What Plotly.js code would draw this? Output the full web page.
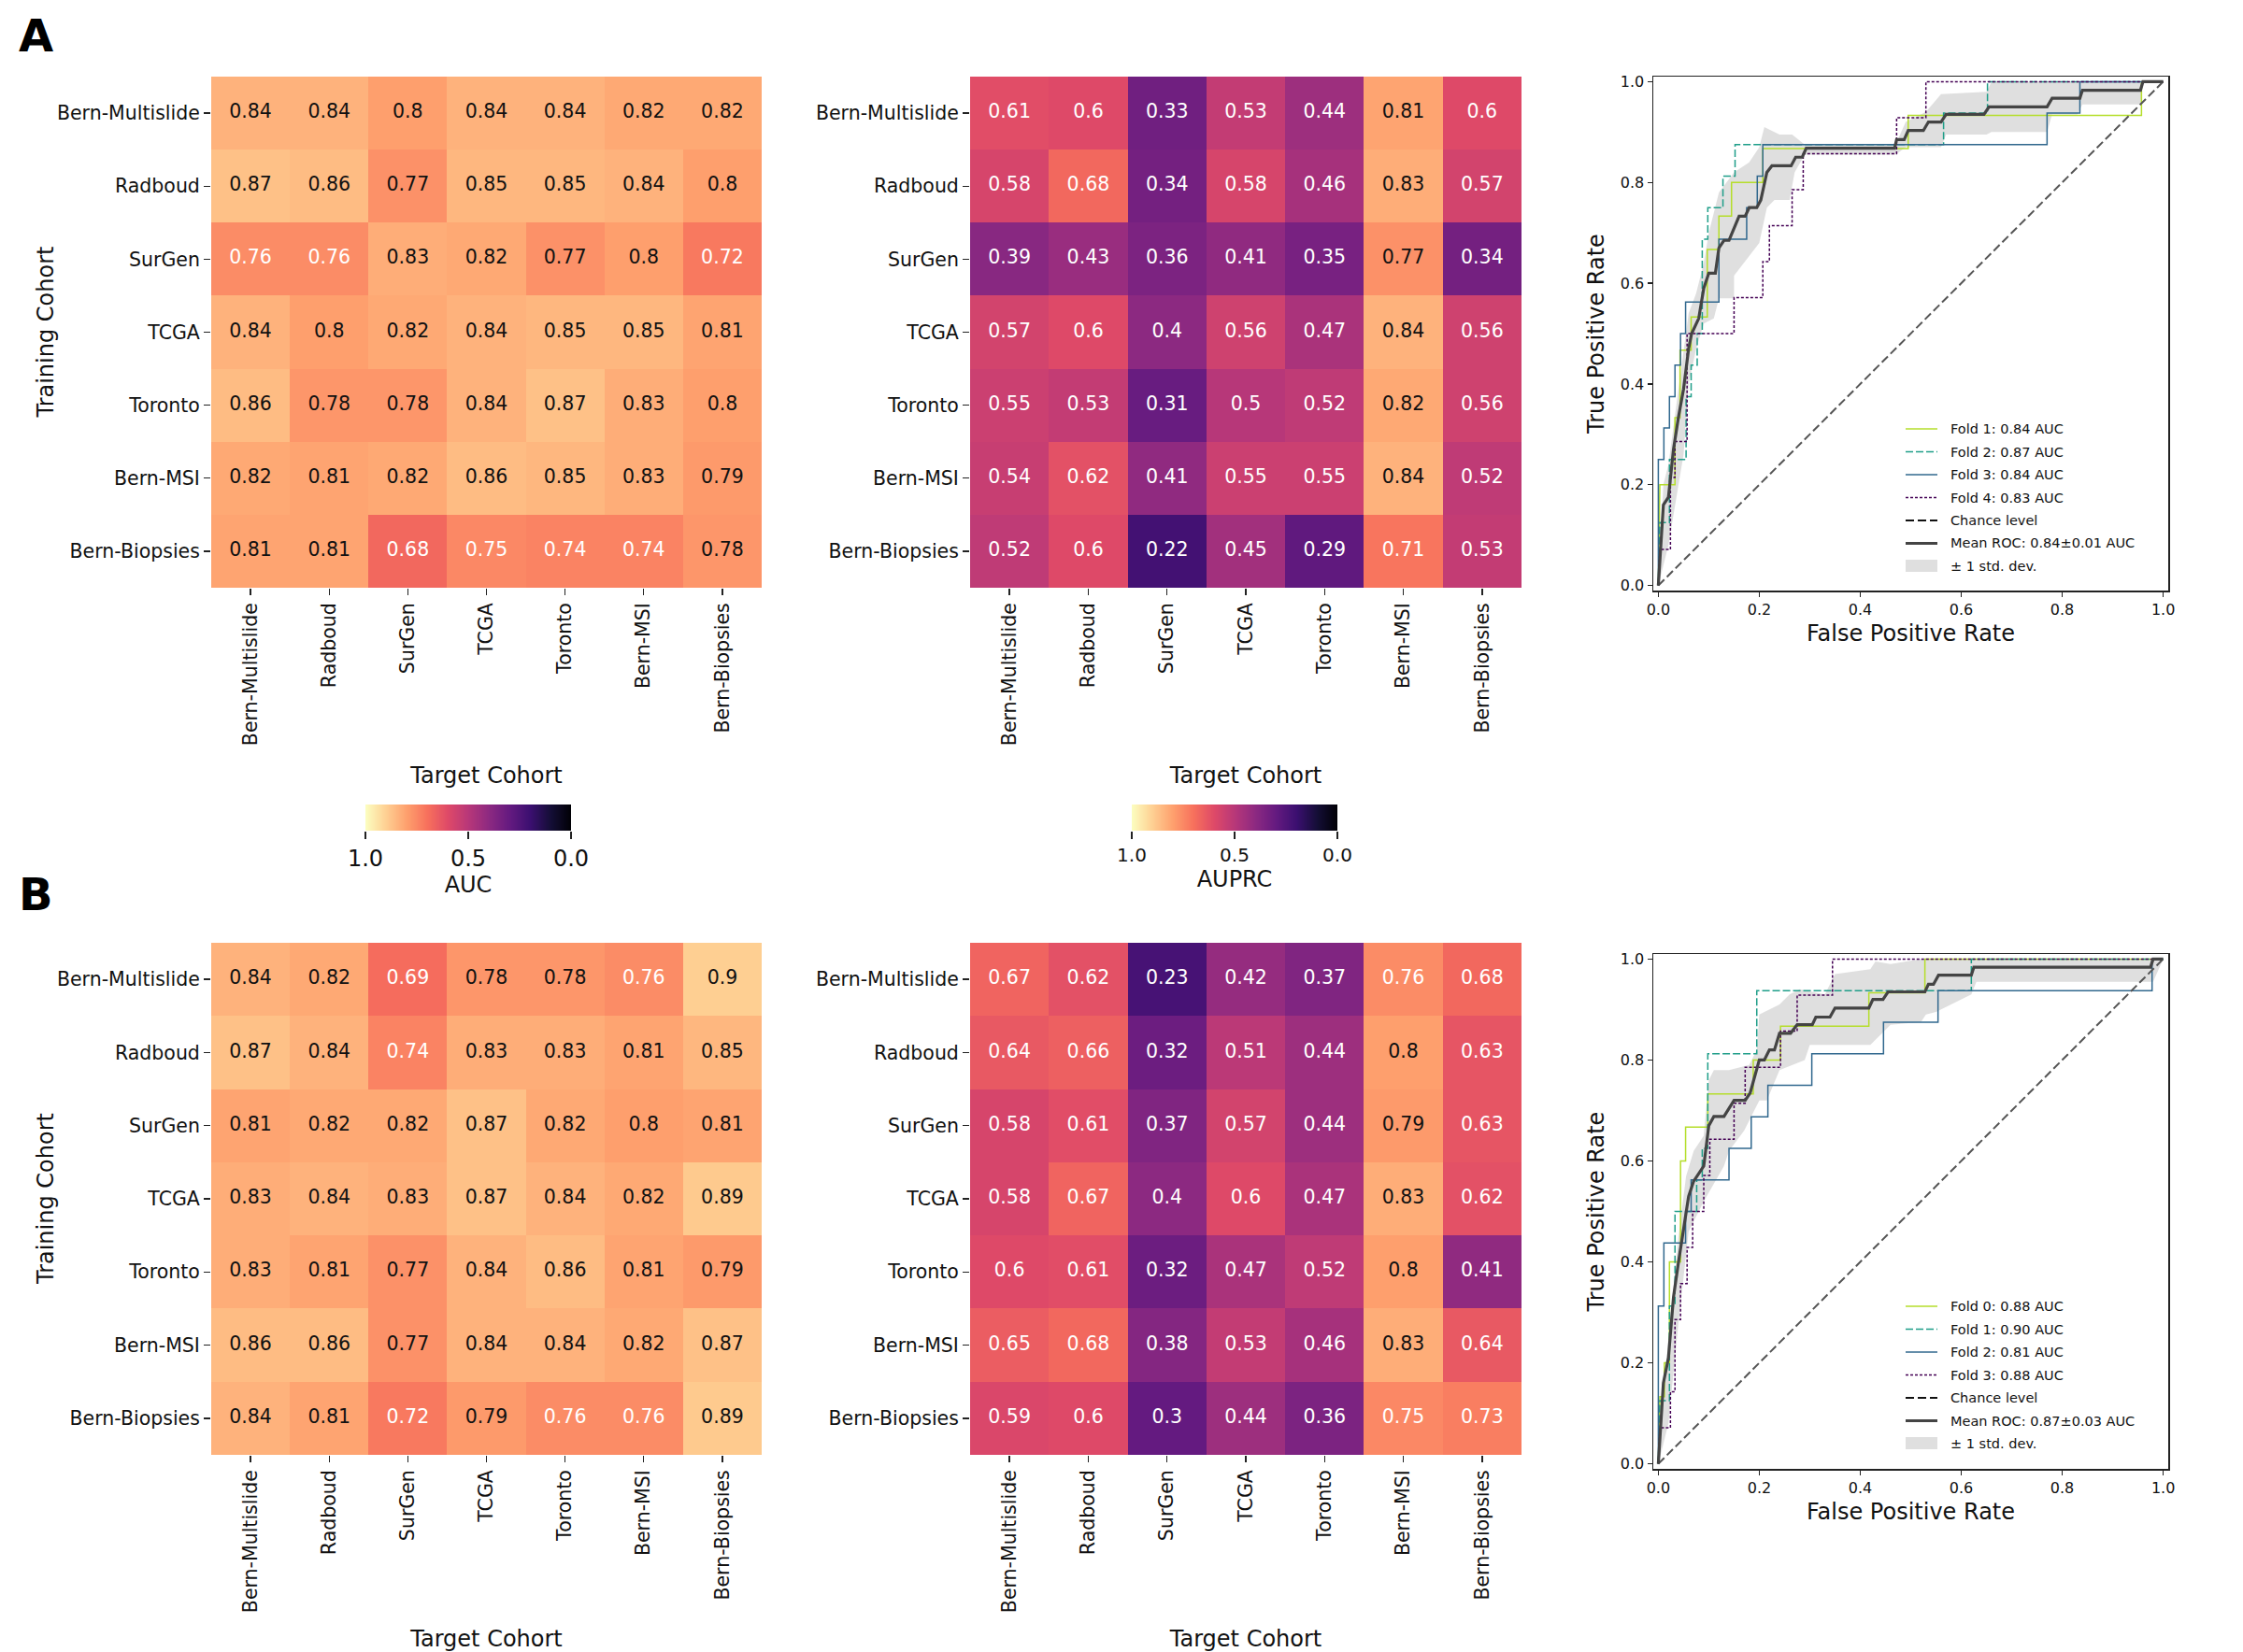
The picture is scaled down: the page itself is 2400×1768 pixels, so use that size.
<!DOCTYPE html>
<html><head><meta charset="utf-8">
<script src="https://cdn.plot.ly/plotly-3.0.0.min.js"></script>
<style>html,body{margin:0;padding:0;background:#fff}</style></head>
<body><div id="chart" style="width:2400px;height:1768px"></div>
<script>
const cohorts = ["Bern-Multislide","Radboud","SurGen","TCGA","Toronto","Bern-MSI","Bern-Biopsies"];

const aucA = [
 [0.84,0.84,0.80,0.84,0.84,0.82,0.82],
 [0.87,0.86,0.77,0.85,0.85,0.84,0.80],
 [0.76,0.76,0.83,0.82,0.77,0.80,0.72],
 [0.84,0.80,0.82,0.84,0.85,0.85,0.81],
 [0.86,0.78,0.78,0.84,0.87,0.83,0.80],
 [0.82,0.81,0.82,0.86,0.85,0.83,0.79],
 [0.81,0.81,0.68,0.75,0.74,0.74,0.78]];
const auprcA = [
 [0.61,0.60,0.33,0.53,0.44,0.81,0.60],
 [0.58,0.68,0.34,0.58,0.46,0.83,0.57],
 [0.39,0.43,0.36,0.41,0.35,0.77,0.34],
 [0.57,0.60,0.40,0.56,0.47,0.84,0.56],
 [0.55,0.53,0.31,0.50,0.52,0.82,0.56],
 [0.54,0.62,0.41,0.55,0.55,0.84,0.52],
 [0.52,0.60,0.22,0.45,0.29,0.71,0.53]];
const aucB = [
 [0.84,0.82,0.69,0.78,0.78,0.76,0.90],
 [0.87,0.84,0.74,0.83,0.83,0.81,0.85],
 [0.81,0.82,0.82,0.87,0.82,0.80,0.81],
 [0.83,0.84,0.83,0.87,0.84,0.82,0.89],
 [0.83,0.81,0.77,0.84,0.86,0.81,0.79],
 [0.86,0.86,0.77,0.84,0.84,0.82,0.87],
 [0.84,0.81,0.72,0.79,0.76,0.76,0.89]];
const auprcB = [
 [0.67,0.62,0.23,0.42,0.37,0.76,0.68],
 [0.64,0.66,0.32,0.51,0.44,0.80,0.63],
 [0.58,0.61,0.37,0.57,0.44,0.79,0.63],
 [0.58,0.67,0.40,0.60,0.47,0.83,0.62],
 [0.60,0.61,0.32,0.47,0.52,0.80,0.41],
 [0.65,0.68,0.38,0.53,0.46,0.83,0.64],
 [0.59,0.60,0.30,0.44,0.36,0.75,0.73]];

// ROC A
const a1x=[0,0.003,0.033,0.033,0.043,0.043,0.065,0.065,0.097,0.097,0.12,0.12,0.145,0.145,0.207,0.207,0.495,0.495,0.957,0.957,1];
const a1y=[0,0.2,0.2,0.333,0.333,0.467,0.467,0.533,0.533,0.667,0.667,0.733,0.733,0.8,0.8,0.867,0.867,0.933,0.933,1,1];
const a2x=[0,0.003,0.022,0.022,0.055,0.055,0.065,0.065,0.077,0.077,0.087,0.087,0.098,0.098,0.128,0.128,0.152,0.152,0.565,0.565,0.652,0.652,1];
const a2y=[0,0.125,0.125,0.25,0.25,0.375,0.375,0.4375,0.4375,0.5,0.5,0.6875,0.6875,0.75,0.75,0.8125,0.8125,0.875,0.875,0.9375,0.9375,1,1];
const a3x=[0,0,0.011,0.011,0.022,0.022,0.033,0.033,0.044,0.044,0.054,0.054,0.12,0.12,0.175,0.175,0.196,0.196,0.207,0.207,0.77,0.77,0.835,0.835,1];
const a3y=[0,0.25,0.25,0.3125,0.3125,0.375,0.375,0.4375,0.4375,0.5,0.5,0.5625,0.5625,0.6875,0.6875,0.75,0.75,0.8125,0.8125,0.875,0.875,0.9375,0.9375,1,1];
const a4x=[0,0.003,0.024,0.024,0.033,0.033,0.057,0.057,0.15,0.15,0.207,0.207,0.22,0.22,0.265,0.265,0.287,0.287,0.472,0.472,0.53,0.53,1];
const a4y=[0,0.0714,0.0714,0.2143,0.2143,0.2857,0.2857,0.5,0.5,0.5714,0.5714,0.6429,0.6429,0.7143,0.7143,0.7857,0.7857,0.857,0.857,0.9286,0.9286,1,1];
const amx=[0,0.01,0.02,0.03,0.04,0.05,0.06,0.066,0.08,0.09,0.1,0.113,0.12,0.13,0.14,0.15,0.16,0.172,0.18,0.195,0.203,0.215,0.225,0.263,0.272,0.285,0.293,0.468,0.472,0.487,0.495,0.525,0.535,0.56,0.57,0.645,0.655,0.77,0.78,0.835,0.84,0.955,0.96,1];
const amy=[0,0.16,0.175,0.27,0.335,0.39,0.47,0.5,0.53,0.59,0.62,0.62,0.67,0.685,0.685,0.71,0.733,0.733,0.75,0.75,0.765,0.82,0.833,0.833,0.85,0.85,0.868,0.868,0.885,0.885,0.903,0.903,0.92,0.92,0.935,0.935,0.95,0.95,0.967,0.967,0.983,0.983,1,1];
const aux=[0,0.01,0.02,0.04,0.06,0.075,0.09,0.1,0.12,0.15,0.18,0.2,0.21,0.24,0.265,0.29,0.47,0.49,0.53,0.56,0.65,0.66,1];
const auy=[0,0.2,0.24,0.39,0.54,0.58,0.64,0.7,0.78,0.82,0.84,0.87,0.91,0.895,0.895,0.875,0.875,0.92,0.94,0.975,0.98,1,1];
const alx=[0,0.02,0.05,0.06,0.075,0.09,0.11,0.12,0.15,0.15,0.17,0.2,0.215,0.23,0.26,0.27,0.29,0.47,0.49,0.56,0.57,0.65,0.66,0.77,0.78,0.83,0.84,0.955,0.96,1];
const aly=[0,0.08,0.26,0.4,0.47,0.52,0.53,0.57,0.57,0.615,0.64,0.68,0.75,0.765,0.765,0.82,0.855,0.855,0.87,0.87,0.895,0.895,0.9,0.9,0.935,0.935,0.955,0.955,1,1];

// ROC B
const b1x=[0,0.003,0.012,0.012,0.022,0.022,0.044,0.044,0.054,0.054,0.098,0.098,0.188,0.188,0.242,0.242,0.417,0.417,0.528,0.528,1];
const b1y=[0,0.133,0.133,0.2,0.2,0.4,0.4,0.6,0.6,0.667,0.667,0.733,0.733,0.8,0.8,0.867,0.867,0.933,0.933,1,1];
const b2x=[0,0.003,0.022,0.022,0.033,0.033,0.076,0.076,0.087,0.087,0.098,0.098,0.195,0.195,0.62,0.62,1];
const b2y=[0,0.125,0.125,0.3125,0.3125,0.5,0.5,0.5625,0.5625,0.625,0.625,0.8125,0.8125,0.9375,0.9375,1,1];
const b3x=[0,0,0.011,0.011,0.054,0.054,0.065,0.065,0.14,0.14,0.184,0.184,0.217,0.217,0.304,0.304,0.446,0.446,0.554,0.554,0.978,0.978,1];
const b3y=[0,0.3125,0.3125,0.4375,0.4375,0.5,0.5,0.5625,0.5625,0.625,0.625,0.6875,0.6875,0.75,0.75,0.8125,0.8125,0.875,0.875,0.9375,0.9375,1,1];
const b4x=[0,0.003,0.024,0.024,0.033,0.033,0.044,0.044,0.057,0.057,0.068,0.068,0.09,0.09,0.102,0.102,0.15,0.15,0.172,0.172,0.242,0.242,0.275,0.275,0.345,0.345,1];
const b4y=[0,0.0714,0.0714,0.1429,0.1429,0.2857,0.2857,0.3571,0.3571,0.4286,0.4286,0.5,0.5,0.5714,0.5714,0.6429,0.6429,0.7143,0.7143,0.7857,0.7857,0.8571,0.8571,0.9286,0.9286,1,1];
const bmx=[0,0.01,0.02,0.03,0.04,0.05,0.06,0.07,0.09,0.1,0.11,0.13,0.15,0.172,0.182,0.2,0.21,0.22,0.23,0.24,0.262,0.275,0.305,0.312,0.34,0.35,0.417,0.425,0.445,0.455,0.528,0.535,0.545,0.555,0.62,0.625,0.975,0.98,1];
const bmy=[0,0.16,0.21,0.33,0.4,0.47,0.53,0.56,0.59,0.67,0.688,0.688,0.72,0.72,0.735,0.8,0.8,0.82,0.82,0.853,0.853,0.87,0.87,0.885,0.885,0.903,0.903,0.92,0.92,0.935,0.935,0.95,0.95,0.968,0.968,0.984,0.984,1,1];
const bux=[0,0.02,0.04,0.055,0.07,0.09,0.1,0.11,0.14,0.18,0.195,0.2,0.24,0.26,0.28,0.33,0.35,0.42,0.43,0.46,0.52,0.535,0.62,1];
const buy=[0,0.25,0.45,0.57,0.62,0.65,0.76,0.78,0.78,0.79,0.82,0.89,0.91,0.93,0.94,0.93,0.97,0.98,0.995,0.99,1,1,1,1];
const blx=[0,0.02,0.04,0.06,0.08,0.09,0.13,0.14,0.17,0.19,0.2,0.215,0.24,0.29,0.3,0.42,0.44,0.46,0.52,0.53,0.55,0.62,0.63,0.98,1];
const bly=[0,0.08,0.28,0.46,0.5,0.52,0.59,0.62,0.66,0.7,0.72,0.72,0.78,0.8,0.83,0.83,0.85,0.87,0.875,0.89,0.895,0.93,0.955,0.955,1];

const magma=[[0,'#000004'],[0.1,'#140e36'],[0.2,'#3b0f70'],[0.3,'#641a80'],[0.4,'#8c2981'],[0.5,'#b73779'],[0.6,'#de4968'],[0.7,'#f7705c'],[0.8,'#fe9f6d'],[0.9,'#fecf92'],[1,'#fcfdbf']];
const scaleValues=[0,0.05,0.1,0.15,0.2,0.25,0.3,0.35,0.4,0.45,0.5,0.55,0.6,0.65,0.7,0.75,0.8,0.85,0.9,0.95,1];

const W=2400,H=1768;
const heatX=[[226,815],[1038,1628]];
const heatY=[[82,629],[1009,1557]];
const rocX=[1769,2320];
const rocY=[[82,632],[1021,1572]];
const barX=[[391,611],[1211,1431]];
const barY=[861,889];
const dx=([a,b])=>[a/W,b/W], dy=([a,b])=>[1-b/H,1-a/H];

const data=[],layout={width:W,height:H,margin:{l:0,r:0,t:0,b:0},paper_bgcolor:'#fff',plot_bgcolor:'#fff',showlegend:false,font:{family:'DejaVu Sans',color:'#111'},annotations:[],shapes:[]};
let n=0;
function addHeat(z,xr,yr,showY){
  n++;const id=n,xa='xaxis'+id,ya='yaxis'+id;
  layout[xa]={domain:dx(xr),anchor:'y'+id,tickmode:'array',tickvals:cohorts.map((_,i)=>i),ticktext:cohorts,tickangle:-90,tickfont:{size:20.5},ticks:'outside',ticklen:7,tickwidth:1.3,tickcolor:'#222',showgrid:false,zeroline:false,showline:false,range:[-0.5,6.5],title:{text:'Target Cohort',font:{size:24},standoff:24},automargin:false};
  layout[ya]={domain:dy(yr),anchor:'x'+id,tickmode:'array',tickvals:cohorts.map((_,i)=>i),ticktext:cohorts,tickfont:{size:20.5},ticks:'outside',ticklen:7,tickwidth:1.3,tickcolor:'#222',showgrid:false,zeroline:false,showline:false,range:[6.5,-0.5],automargin:false};
  data.push({type:'heatmap',z:z,x:cohorts.map((_,i)=>i),y:cohorts.map((_,i)=>i),xaxis:'x'+id,yaxis:'y'+id,zmin:0,zmax:1,colorscale:magma,showscale:false,xgap:0,ygap:0,hoverinfo:'skip'});
  const tx=[],ty=[],tt=[],tc=[];
  z.forEach((r,i)=>r.forEach((v,j)=>{tx.push(j);ty.push(i);tt.push(String(v));tc.push(v<=0.76?'#fff':'#111');}));
  data.push({type:'scatter',mode:'text',x:tx,y:ty,text:tt,textposition:'middle center',textfont:{size:20.5,color:tc},xaxis:'x'+id,yaxis:'y'+id,hoverinfo:'skip'});
  if(showY){
    layout.annotations.push({text:'Training Cohort',xref:'paper',yref:'paper',x:49/W,y:1-(yr[0]+yr[1])/2/H,textangle:-90,showarrow:false,font:{size:24},xanchor:'center',yanchor:'middle'});
  }
}
function addRoc(series,yr,names){
  n++;const id=n,xa='xaxis'+id,ya='yaxis'+id;
  layout[xa]={domain:dx(rocX),anchor:'y'+id,range:[-0.01,1.01],tickvals:[0,0.2,0.4,0.6,0.8,1],ticktext:['0.0','0.2','0.4','0.6','0.8','1.0'],tickfont:{size:16},ticks:'outside',ticklen:5,tickwidth:1.2,tickcolor:'#222',showgrid:false,zeroline:false,showline:true,linecolor:'#222',linewidth:1.5,mirror:true,title:{text:'False Positive Rate',font:{size:24},standoff:8}};
  layout[ya]={domain:dy(yr),anchor:'x'+id,range:[-0.01,1.01],tickvals:[0,0.2,0.4,0.6,0.8,1],ticktext:['0.0','0.2','0.4','0.6','0.8','1.0'],tickfont:{size:16},ticks:'outside',ticklen:5,tickwidth:1.2,tickcolor:'#222',showgrid:false,zeroline:false,showline:true,linecolor:'#222',linewidth:1.5,mirror:true,title:{text:'True Positive Rate',font:{size:24},standoff:10}};
  const ax={xaxis:'x'+id,yaxis:'y'+id,hoverinfo:'skip'};
  data.push({...ax,type:'scatter',mode:'lines',x:series.ux.concat(series.lx.slice().reverse()),y:series.uy.concat(series.ly.slice().reverse()),fill:'toself',fillcolor:'rgba(128,128,128,0.25)',line:{width:0}});
  data.push({...ax,type:'scatter',mode:'lines',x:series.f1[0],y:series.f1[1],line:{color:'#b5de2b',width:1.5}});
  data.push({...ax,type:'scatter',mode:'lines',x:series.f2[0],y:series.f2[1],line:{color:'#1f9e89',width:1.5,dash:'8px,3px'}});
  data.push({...ax,type:'scatter',mode:'lines',x:series.f3[0],y:series.f3[1],line:{color:'#31688e',width:1.5}});
  data.push({...ax,type:'scatter',mode:'lines',x:series.f4[0],y:series.f4[1],line:{color:'#440154',width:1.5,dash:'3px,2px'}});
  data.push({...ax,type:'scatter',mode:'lines',x:[0,1],y:[0,1],line:{color:'#555',width:2,dash:'9px,4px'}});
  data.push({...ax,type:'scatter',mode:'lines',x:series.mx,y:series.my,line:{color:'#444',width:3.2}});
  const lx0=rocX[0]+270,lx1=lx0+34,tx=lx1+12;
  const ly0=yr[0]+(yr===rocY[0]?377:377),step=24.5;
  const sty=[{c:'#b5de2b',w:1.5},{c:'#1f9e89',w:1.5,d:'8px,3px'},{c:'#31688e',w:1.5},{c:'#440154',w:1.5,d:'3px,2px'},{c:'#111',w:2,d:'9px,4px'},{c:'#444',w:3.2}];
  names.forEach((t,i)=>{
    const yy=ly0+i*step;
    if(i<6) layout.shapes.push({type:'line',xref:'paper',yref:'paper',x0:lx0/W,x1:lx1/W,y0:1-yy/H,y1:1-yy/H,line:{color:sty[i].c,width:sty[i].w,dash:sty[i].d||'solid'}});
    else layout.shapes.push({type:'rect',xref:'paper',yref:'paper',x0:lx0/W,x1:lx1/W,y0:1-(yy+6)/H,y1:1-(yy-7)/H,fillcolor:'rgba(128,128,128,0.25)',line:{width:0}});
    layout.annotations.push({text:t,xref:'paper',yref:'paper',x:tx/W,y:1-yy/H,showarrow:false,font:{size:14.5},xanchor:'left',yanchor:'middle'});
  });
}
function addBar(xr,title,tfs){
  n++;const id=n;
  layout['xaxis'+id]={domain:dx(xr),anchor:'y'+id,range:[1,0],tickvals:[1,0.5,0],ticktext:['1.0','0.5','0.0'],tickfont:{size:tfs},ticks:'outside',ticklen:8,tickwidth:1.2,tickcolor:'#222',showgrid:false,zeroline:false,showline:false,title:{text:title,font:{size:24},standoff:6}};
  layout['yaxis'+id]={domain:dy(barY),anchor:'x'+id,range:[0,1],showticklabels:false,ticks:'',showgrid:false,zeroline:false};
  data.push({type:'heatmap',x:scaleValues,y:[0,1],z:[scaleValues,scaleValues],zsmooth:'best',zmin:0,zmax:1,colorscale:magma,showscale:false,xaxis:'x'+id,yaxis:'y'+id,hoverinfo:'skip'});
}
addHeat(aucA,heatX[0],heatY[0],true);
addHeat(auprcA,heatX[1],heatY[0],false);
addHeat(aucB,heatX[0],heatY[1],true);
addHeat(auprcB,heatX[1],heatY[1],false);
addRoc({ux:aux,uy:auy,lx:alx,ly:aly,f1:[a1x,a1y],f2:[a2x,a2y],f3:[a3x,a3y],f4:[a4x,a4y],mx:amx,my:amy},rocY[0],['Fold 1: 0.84 AUC','Fold 2: 0.87 AUC','Fold 3: 0.84 AUC','Fold 4: 0.83 AUC','Chance level','Mean ROC: 0.84±0.01 AUC','± 1 std. dev.']);
addRoc({ux:bux,uy:buy,lx:blx,ly:bly,f1:[b1x,b1y],f2:[b2x,b2y],f3:[b3x,b3y],f4:[b4x,b4y],mx:bmx,my:bmy},rocY[1],['Fold 0: 0.88 AUC','Fold 1: 0.90 AUC','Fold 2: 0.81 AUC','Fold 3: 0.88 AUC','Chance level','Mean ROC: 0.87±0.03 AUC','± 1 std. dev.']);
addBar(barX[0],'AUC',24);
addBar(barX[1],'AUPRC',20);
layout.annotations.push({text:'<b>A</b>',xref:'paper',yref:'paper',x:38/W,y:1-38/H,showarrow:false,font:{size:48,color:'#000'},xanchor:'center',yanchor:'middle'});
layout.annotations.push({text:'<b>B</b>',xref:'paper',yref:'paper',x:38/W,y:1-957/H,showarrow:false,font:{size:48,color:'#000'},xanchor:'center',yanchor:'middle'});
Plotly.newPlot('chart',data,layout,{staticPlot:true,displayModeBar:false});
</script></body></html>
